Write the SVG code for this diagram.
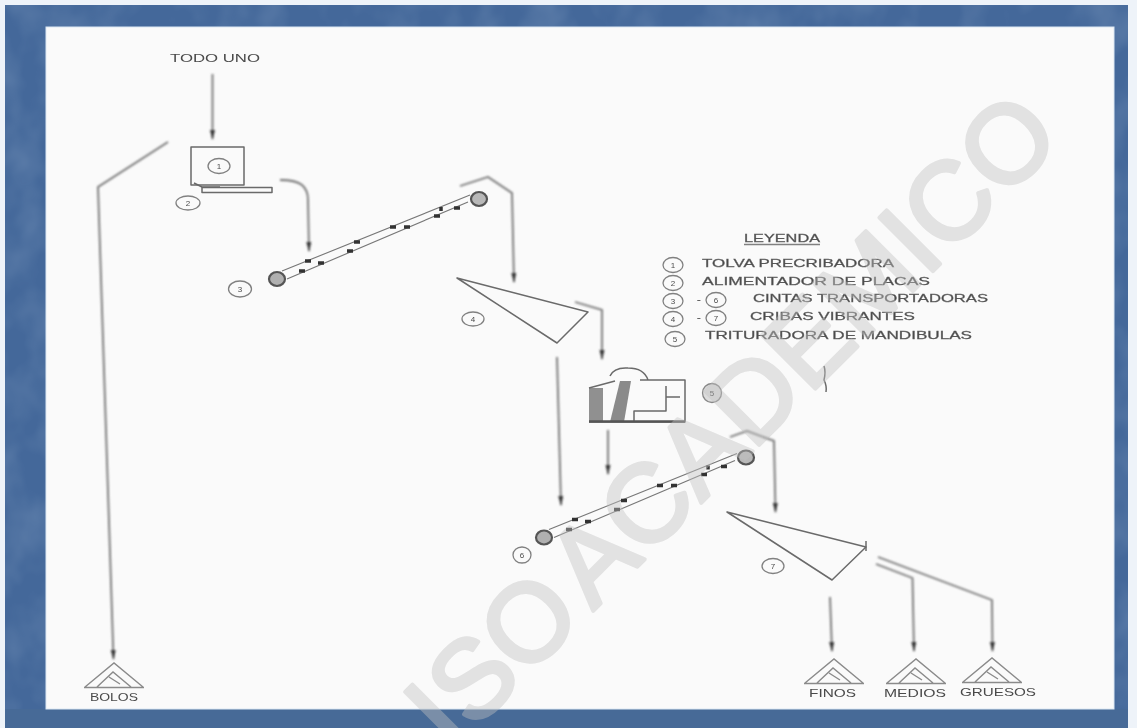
<svg xmlns="http://www.w3.org/2000/svg" width="1137" height="728" viewBox="0 0 1137 728">
<style>
.ln{fill:none;stroke:#6a6a6a;stroke-width:1.5;stroke-linejoin:round}
.fn{fill:none;stroke:#808080;stroke-width:1.3;stroke-linejoin:round}
.arr{fill:none;stroke:#707070;stroke-width:1.8;marker-end:url(#ah)}
.tg{fill:none;stroke:#8a8a8a;stroke-width:1.4}
text{font-family:"Liberation Sans",Arial,sans-serif;fill:#4a4a4a}
.lab{font-size:10.500px}
.leg{font-size:11px;stroke:#666;stroke-width:.3px}
.num{font-size:8px;text-anchor:middle}
</style>
<defs>
<filter id="soft" x="-5%" y="-5%" width="110%" height="110%"><feGaussianBlur stdDeviation="0.85"/></filter>
<filter id="softer" x="-5%" y="-5%" width="110%" height="110%"><feGaussianBlur stdDeviation="0.65"/></filter>
<filter id="marble" x="0" y="0" width="100%" height="100%"><feTurbulence type="fractalNoise" baseFrequency="0.025 0.02" numOctaves="3" seed="7"/><feColorMatrix values="0 0 0 0 .55  0 0 0 0 .68  0 0 0 0 .82  0 0 0 1.4 -.5"/></filter>
<marker id="ah" markerUnits="userSpaceOnUse" markerWidth="12" markerHeight="7" refX="10" refY="3.500" orient="auto" viewBox="0 0 12 7"><path d="M1 1 L11 3.500 L1 6 Z" fill="#333"/></marker>
<g id="pile" class="tg"><path d="M-29 24 L0 0 L29 24 M-30 24.500 H30 M-17 24 L-1 9 L17 24 M-5 14 L6 21"/></g>
<g id="conveyor">
<path fill="none" stroke="#777" stroke-width="1.200" d="M282 271 L470 195 M287 279 L468 202"/>
<ellipse cx="277" cy="279" rx="8" ry="7" fill="#b0b0b0" stroke="#555" stroke-width="2.200"/>
<ellipse cx="479" cy="199" rx="8" ry="7" fill="#b8b8b8" stroke="#555" stroke-width="2.200"/>
<path fill="none" stroke="#333" stroke-width="3.500" d="M305 261 h6 M318 263 h6 M299 271 h6 M354 242 h6 M347 251 h6 M390 227 h6 M404 227 h6 M441 207 v4 M434 216 h6 M454 208 h6"/>
</g>
</defs>

<rect width="1137" height="728" fill="#eef3f9"/>
<rect x="5" y="5" width="1123" height="723" fill="#44689a"/>
<rect x="5" y="5" width="1123" height="723" filter="url(#marble)" opacity=".22"/>
<rect x="5" y="709" width="1123" height="19" fill="#476a97"/>
<rect x="46" y="27" width="1068" height="682" fill="#fafafa" stroke="#dce8f4" stroke-width="1"/>

<g id="connectors" filter="url(#soft)">
<path class="arr" d="M212.500 74 V139"/>
<path class="arr" d="M168 142 L98 187 L113.500 659"/>
<path class="arr" d="M280 180 Q296 180 302 185 Q308 190 308 200 L309 251"/>
<path class="arr" d="M460 186 L488 177 L512 193 L514 282"/>
<path class="arr" d="M557 357 L561 505"/>
<path class="arr" d="M575 302 L602 310 V359"/>
<path class="arr" d="M608 430 V474"/>
<path class="arr" d="M730 437 L747 431 L774 441 L775.500 512"/>
<path class="arr" d="M830 597 L832 651"/>
<path class="arr" d="M876 564 L912.500 578 L914 651"/>
<path class="arr" d="M878 557 L992 600 L992.500 651"/>
</g>

<g filter="url(#softer)">
<g id="todo-uno"><text class="lab" x="170" y="62" textLength="90" lengthAdjust="spacingAndGlyphs">TODO UNO</text></g>
<g id="tolva"><rect class="ln" x="191" y="147" width="53" height="38"/><ellipse class="fn" cx="219" cy="166" rx="11" ry="7.500"/><text class="num" x="219" y="169">1</text></g>
<g id="alimentador"><rect class="ln" x="202" y="187.500" width="70" height="5"/><path class="ln" d="M194 183 L202 187 H220"/><ellipse class="fn" cx="188" cy="203" rx="12" ry="7"/><text class="num" x="188" y="206">2</text></g>
<g id="cinta-3"><use href="#conveyor"/><ellipse class="fn" cx="240" cy="289" rx="11.500" ry="8"/><text class="num" x="240" y="292">3</text></g>
<g id="criba-4"><path class="ln" d="M457 278 L588 312 L557 343 Z"/><ellipse class="fn" cx="473" cy="319" rx="11" ry="7"/><text class="num" x="473" y="322">4</text></g>
<g id="trituradora">
<path d="M589 388 H603 V421 H589 Z" fill="#909090"/>
<path d="M610 422 L620 381 L631 381 L624 422 Z" fill="#8a8a8a"/>
<path class="ln" d="M589 422 H685 V380 H640 M589 388 L615 381 M610 376 Q614 367 628 368 Q644 368 648 380 M634 421 V411 H666 V397 H680 M666 397 V386"/>
<path d="M589 421.500 H685" stroke="#555" stroke-width="2.500"/>
<circle cx="712" cy="393" r="9.500" fill="#dcdcdc" stroke="#888" stroke-width="1.300"/><text class="num" x="712" y="396">5</text>
</g>
<g id="cinta-6"><use href="#conveyor" transform="translate(267 258.500)"/><ellipse class="fn" cx="522" cy="555" rx="9" ry="8"/><text class="num" x="522" y="558">6</text></g>
<g id="criba-7"><path class="ln" d="M727 512 L866 547 L832 580 Z"/><path class="ln" d="M866 541 V551"/><ellipse class="fn" cx="773" cy="566" rx="11" ry="7.500"/><text class="num" x="773" y="569">7</text></g>
<g id="bolos"><use href="#pile" transform="translate(114 663)"/><text class="lab" x="90" y="701" textLength="48" lengthAdjust="spacingAndGlyphs">BOLOS</text></g>
<g id="finos"><use href="#pile" transform="translate(834 659)"/><text class="lab" x="809" y="697" textLength="47" lengthAdjust="spacingAndGlyphs">FINOS</text></g>
<g id="medios"><use href="#pile" transform="translate(916 659)"/><text class="lab" x="884" y="697" textLength="62" lengthAdjust="spacingAndGlyphs">MEDIOS</text></g>
<g id="gruesos"><use href="#pile" transform="translate(992 658)"/><text class="lab" x="960" y="696" textLength="76" lengthAdjust="spacingAndGlyphs">GRUESOS</text></g>
<g id="leyenda">
<text class="leg" x="744" y="242" textLength="76" lengthAdjust="spacingAndGlyphs">LEYENDA</text><path class="fn" d="M744 244.500 H820"/>
<ellipse class="fn" cx="673" cy="265" rx="10" ry="7.500"/><text class="num" x="673" y="268">1</text>
<text class="leg" x="702" y="267" textLength="192" lengthAdjust="spacingAndGlyphs">TOLVA PRECRIBADORA</text>
<ellipse class="fn" cx="673" cy="283" rx="10" ry="7.500"/><text class="num" x="673" y="286">2</text>
<text class="leg" x="702" y="285" textLength="228" lengthAdjust="spacingAndGlyphs">ALIMENTADOR DE PLACAS</text>
<ellipse class="fn" cx="673" cy="301" rx="10" ry="7.500"/><text class="num" x="673" y="304">3</text>
<text class="leg" x="697" y="303">-</text>
<ellipse class="fn" cx="716" cy="300" rx="10" ry="7.500"/><text class="num" x="716" y="303">6</text>
<text class="leg" x="753" y="302" textLength="235" lengthAdjust="spacingAndGlyphs">CINTAS TRANSPORTADORAS</text>
<ellipse class="fn" cx="673" cy="319" rx="10" ry="7.500"/><text class="num" x="673" y="322">4</text>
<text class="leg" x="697" y="321">-</text>
<ellipse class="fn" cx="716" cy="318" rx="10" ry="7.500"/><text class="num" x="716" y="321">7</text>
<text class="leg" x="750" y="320" textLength="165" lengthAdjust="spacingAndGlyphs">CRIBAS VIBRANTES</text>
<ellipse class="fn" cx="675" cy="339" rx="10" ry="7.500"/><text class="num" x="675" y="342">5</text>
<text class="leg" x="705" y="339" textLength="267" lengthAdjust="spacingAndGlyphs">TRITURADORA DE MANDIBULAS</text>
</g>
<g id="marca"><path class="ln" d="M824 366 Q826 372 824 380 Q827 386 826 392" stroke-width="1.800"/></g>
</g>

<g id="watermark" opacity=".42"><text x="1064" y="140" transform="rotate(-45 1064 140)" text-anchor="end" font-size="110" word-spacing="-14" style="fill:#c0c0c0;stroke:#c0c0c0;stroke-width:4;stroke-linejoin:round">ISO ACADEMICO</text></g>
</svg>
